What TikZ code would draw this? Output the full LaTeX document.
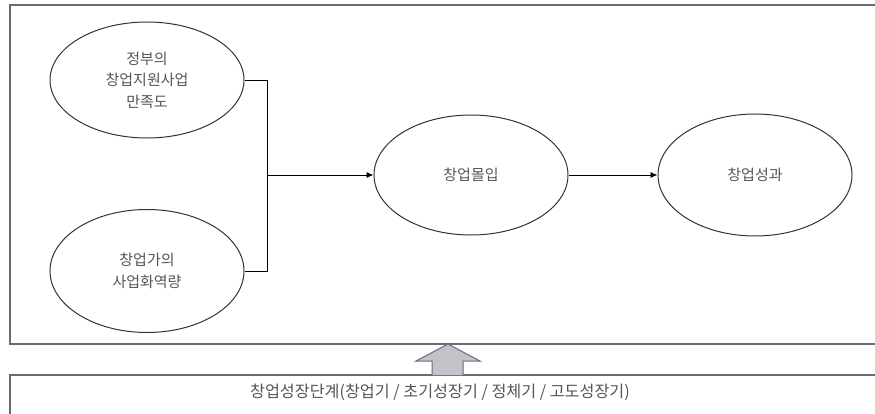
\documentclass[tikz,border=0pt]{standalone}
\usepackage{fontspec}
\setmainfont{Noto Sans CJK KR}
\usetikzlibrary{shapes.geometric,arrows.meta}
\definecolor{boxline}{HTML}{6A6A78}
\definecolor{txt}{HTML}{555555}
\definecolor{arrfill}{HTML}{C2C2C8}
\begin{document}
\begin{tikzpicture}[x=1pt,y=-1pt,
  oval/.style={ellipse,draw=black!80,line width=1pt,minimum width=194pt,align=center,
    text=txt,font=\fontsize{15}{21.5}\selectfont,inner sep=0pt},
  conn/.style={draw=black,line width=0.9pt},
  arr/.style={conn,-{Latex[length=7pt,width=6pt]}},
  frame/.style={draw=boxline,line width=1.3pt}]
\useasboundingbox (0,0) rectangle (875,414);
\draw[frame] (10,5) rectangle (880,344);
\draw[frame] (10,375) rectangle (880,420);
\node[oval,minimum height=116pt] (gov) at (147,80) {정부의\\창업지원사업\\만족도};
\node[oval,minimum height=123pt] (ent) at (147,271) {창업가의\\사업화역량};
\node[oval,minimum height=120pt] (com) at (471,175) {창업몰입};
\node[oval,minimum height=122pt] (perf) at (755,175) {창업성과};
\node[text=txt,font=\fontsize{16.2}{19}\selectfont] (stage) at (440,392) {창업성장단계(창업기 / 초기성장기 / 정체기 / 고도성장기)};
\coordinate (j) at (267,175);
\draw[conn] (gov.east) -| (j);
\draw[conn] (ent.east) -| (j);
\draw[arr] (j) -- (com.west);
\draw[arr] (com.east) -- (perf.west);
\draw[draw=boxline,fill=arrfill,line width=1pt,line join=miter]
  (432,375) -- (432,361) -- (416,361) -- (448,344) -- (480,361) -- (463,361) -- (463,375);
\end{tikzpicture}
\end{document}
